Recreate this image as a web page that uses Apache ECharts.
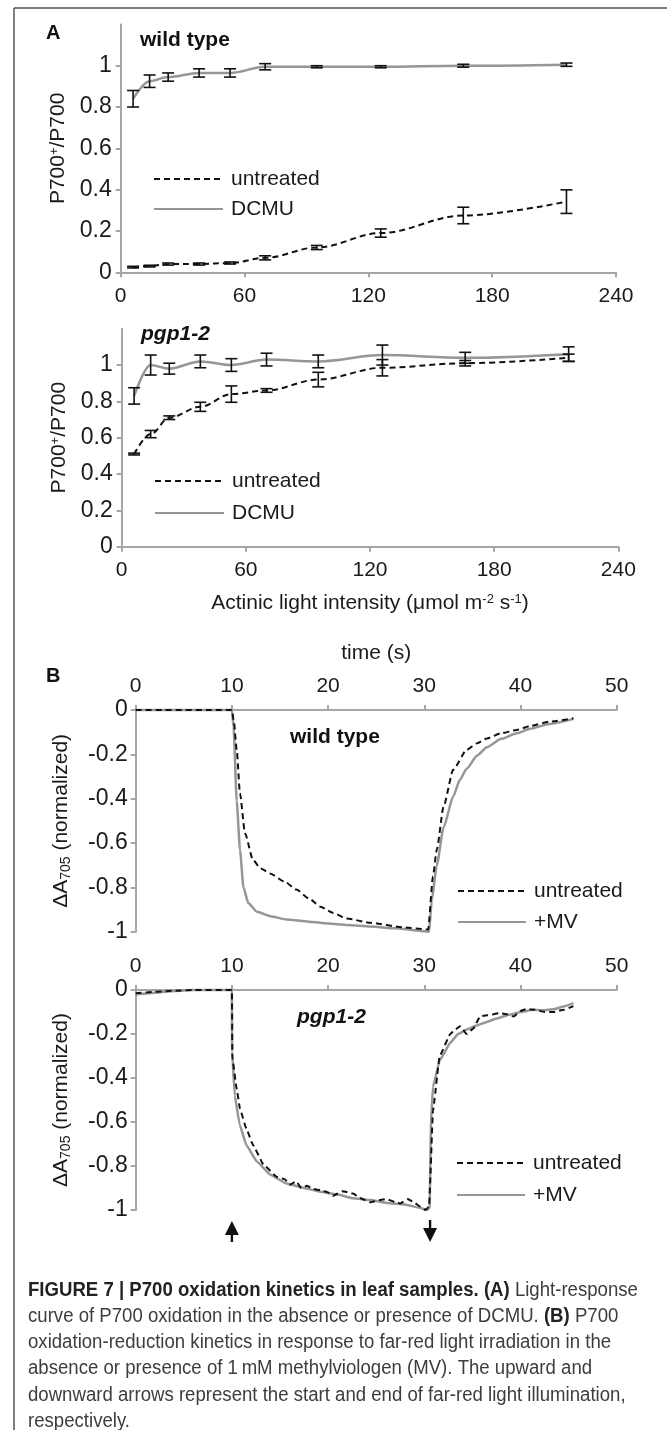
<!DOCTYPE html>
<html>
<head>
<meta charset="utf-8">
<script src="https://cdn.jsdelivr.net/npm/echarts@6/dist/echarts.min.js"></script>
<style>
  html, body { margin: 0; padding: 0; background: #fff; }
  #chart { width: 667px; height: 1430px; }
</style>
</head>
<body>
<div id="chart"></div>
<script>
const FONT = "'Liberation Sans', Arial, sans-serif";
const AXIS_GRAY = '#a6a6a6';
const LINE_GRAY = '#969696';
const TEXT = '#1a1a1a';

// ---- panel A: light response (x = actinic light, µmol m-2 s-1)
const lightIntensity = [6, 14, 23, 38, 53, 70, 95, 126, 166, 216];
const wtUntreated = [0.025, 0.03, 0.04, 0.04, 0.045, 0.07, 0.12, 0.19, 0.275, 0.342];
const wtUntreatedErr = [0.004, 0.004, 0.005, 0.005, 0.005, 0.01, 0.01, 0.02, 0.04, 0.057];
const wtDcmu = [0.84, 0.925, 0.945, 0.965, 0.965, 0.995, 0.995, 0.995, 1.0, 1.005];
const wtDcmuErr = [0.04, 0.03, 0.02, 0.02, 0.02, 0.015, 0.005, 0.005, 0.007, 0.008];
const pgpUntreated = [0.51, 0.62, 0.71, 0.77, 0.84, 0.86, 0.92, 0.985, 1.01, 1.04];
const pgpUntreatedErr = [0.005, 0.02, 0.01, 0.025, 0.045, 0.01, 0.04, 0.045, 0.015, 0.02];
const pgpDcmu = [0.83, 1.0, 0.98, 1.02, 1.0, 1.03, 1.02, 1.055, 1.04, 1.06];
const pgpDcmuErr = [0.045, 0.055, 0.03, 0.035, 0.035, 0.035, 0.035, 0.055, 0.03, 0.04];
const lightTicks = [0, 0.2, 0.4, 0.6, 0.8, 1];

// ---- panel B: P700 kinetics (time in s, normalized dA705)
const wtUntreatedTime = [0, 10, 10.2, 10.5, 10.84, 11.36, 12.2, 13, 13.96, 15.5, 16.7, 18, 19.2, 20.5, 21.9, 24.4, 27.8, 30.4, 30.9, 31.3, 32, 33, 34.4, 35.5, 36.5, 38, 39.6, 41, 43, 45.5];
const wtUntreatedSignal = [0, 0, -0.05, -0.18, -0.376, -0.556, -0.677, -0.715, -0.737, -0.775, -0.81, -0.85, -0.887, -0.915, -0.94, -0.96, -0.98, -0.99, -0.75, -0.63, -0.436, -0.27, -0.18, -0.15, -0.128, -0.105, -0.09, -0.072, -0.053, -0.037];
const wtMvTime = [0, 10, 10.17, 10.5, 10.84, 11.2, 11.7, 12.6, 14, 15.7, 18, 20, 22, 24.4, 27, 30.5, 30.77, 31.3, 32, 33, 33.7, 34.4, 35.5, 36.5, 38, 39.6, 41, 43, 45.5];
const wtMvSignal = [0, 0, -0.075, -0.41, -0.63, -0.80, -0.87, -0.91, -0.93, -0.945, -0.955, -0.963, -0.97, -0.977, -0.985, -1.0, -0.86, -0.70, -0.53, -0.39, -0.315, -0.265, -0.205, -0.168, -0.13, -0.105, -0.085, -0.063, -0.04];
const pgpUntreatedTime = [0, 2, 4, 6, 10, 10.05, 10.5, 10.84, 11.5, 12.2, 13.3, 14.7, 15.5, 16, 16.7, 17.2, 17.8, 18.5, 19.2, 20, 20.5, 21.5, 22.6, 23.3, 24.4, 25.3, 26.1, 27, 27.5, 28.3, 28.9, 29.6, 30.1, 30.5, 30.9, 31.6, 32.7, 33.2, 33.7, 34.4, 35.1, 35.8, 36.5, 37.9, 38.6, 39.3, 40, 40.6, 41.5, 42.5, 43.4, 44.5, 45.5];
const pgpUntreatedSignal = [-0.015, -0.008, -0.003, 0, 0, -0.31, -0.45, -0.54, -0.63, -0.705, -0.795, -0.85, -0.86, -0.885, -0.87, -0.9, -0.89, -0.905, -0.91, -0.92, -0.935, -0.915, -0.925, -0.945, -0.965, -0.955, -0.95, -0.965, -0.97, -0.95, -0.965, -0.985, -1.0, -0.985, -0.55, -0.30, -0.2, -0.18, -0.165, -0.2, -0.175, -0.12, -0.115, -0.105, -0.11, -0.12, -0.095, -0.087, -0.09, -0.1, -0.1, -0.09, -0.073];
const pgpMvTime = [0, 2, 4, 6, 10, 10.02, 10.3, 10.8, 11.5, 12.6, 14, 15.7, 17.5, 19.2, 21, 22.6, 24.4, 26.1, 28, 29.5, 30.3, 30.55, 30.7, 30.9, 31.6, 32.7, 33.5, 34.4, 35.5, 36.5, 37.5, 38.6, 40, 41.3, 42.4, 43.4, 44.5, 45.5];
const pgpMvSignal = [-0.02, -0.012, -0.004, 0, 0, -0.28, -0.48, -0.61, -0.705, -0.78, -0.84, -0.88, -0.9, -0.917, -0.93, -0.947, -0.955, -0.968, -0.975, -0.99, -1.0, -0.99, -0.6, -0.44, -0.32, -0.24, -0.2, -0.18, -0.16, -0.145, -0.13, -0.115, -0.1, -0.09, -0.092, -0.088, -0.075, -0.06];
const farRedOnOff = [10, 30.6];

const captionLines = [
  '{b|FIGURE 7 | P700 oxidation kinetics in leaf samples. (A)}{r| Light-response}',
  '{r|curve of P700 oxidation in the absence or presence of DCMU. }{b|(B)}{r| P700}',
  '{r|oxidation-reduction kinetics in response to far-red light irradiation in the}',
  '{r|absence or presence of 1\u2009mM methylviologen (MV). The upward and}',
  '{r|downward arrows represent the start and end of far-red light illumination,}',
  '{r|respectively.}'
];

const zip = (xs, ys) => xs.map((x, i) => [x, ys[i]]);
const errorRows = (xs, ys, es) => xs.map((x, i) => [x, ys[i] - es[i], ys[i] + es[i]]);

const axisBase = {
  type: 'value',
  axisLine: { show: true, lineStyle: { color: AXIS_GRAY, width: 2 } },
  axisTick: { show: true, length: 5, lineStyle: { color: AXIS_GRAY, width: 2 } },
  splitLine: { show: false },
  nameMoveOverlap: false
};
const labelBase = { color: TEXT, fontSize: 21, fontFamily: FONT };
const yLabelBase = { color: TEXT, fontSize: 23, fontFamily: FONT };

const supRich = {
  n: { fontSize: 21, fontFamily: FONT, color: TEXT, lineHeight: 22 },
  s: { fontSize: 13, fontFamily: FONT, color: TEXT, lineHeight: 12, verticalAlign: 'top' },
  d: { fontSize: 14, fontFamily: FONT, color: TEXT, lineHeight: 8, verticalAlign: 'bottom' }
};

function lightXAxis(grid, withName) {
  const ax = Object.assign({}, axisBase, {
    gridIndex: grid, min: 0, max: 240, interval: 60,
    axisLabel: Object.assign({ margin: 13 }, labelBase)
  });
  if (withName) {
    ax.name = '{n|Actinic light intensity (\u03bcmol m}{s|-2}{n| s}{s|-1}{n|)}';
    ax.nameLocation = 'middle';
    ax.nameGap = 46;
    ax.nameTextStyle = { rich: supRich };
  }
  return ax;
}
function lightYAxis(grid) {
  return Object.assign({}, axisBase, {
    gridIndex: grid, min: 0, max: 1.2, interval: 0.2,
    axisTick: Object.assign({}, axisBase.axisTick, { customValues: lightTicks }),
    axisLabel: Object.assign({ margin: 9, customValues: lightTicks }, yLabelBase),
    name: '{n|P700}{s|+}{n|/P700}', nameLocation: 'middle', nameGap: 51,
    nameTextStyle: { rich: supRich }
  });
}
function timeXAxis(grid, withName) {
  const ax = Object.assign({}, axisBase, {
    gridIndex: grid, position: 'top', min: 0, max: 50, interval: 10,
    axisLabel: Object.assign({ margin: 13 }, labelBase)
  });
  if (withName) {
    ax.name = 'time (s)';
    ax.nameLocation = 'middle';
    ax.nameGap = 46;
    ax.nameTextStyle = Object.assign({}, labelBase);
  }
  return ax;
}
function signalYAxis(grid) {
  return Object.assign({}, axisBase, {
    gridIndex: grid, min: -1, max: 0, interval: 0.2,
    axisLabel: Object.assign({ margin: 8 }, yLabelBase),
    name: '{n|\u0394A}{d|705}{n| (normalized)}', nameLocation: 'middle', nameGap: 63,
    nameTextStyle: { rich: supRich }
  });
}

function curve(grid, name, data, dashed, smooth) {
  const color = dashed ? '#111' : LINE_GRAY;
  return {
    type: 'line', name: name, xAxisIndex: grid, yAxisIndex: grid,
    data: data, symbol: 'none', smooth: smooth, smoothMonotone: 'x', clip: false,
    z: dashed ? 3 : 2,
    itemStyle: { color: color },
    lineStyle: dashed ? { color: color, width: 2, type: [6, 4] } : { color: color, width: 2.5 }
  };
}
function errorBars(grid, rows) {
  return {
    type: 'custom', xAxisIndex: grid, yAxisIndex: grid, data: rows, z: 5, clip: false,
    renderItem: function (params, api) {
      const hi = api.coord([api.value(0), api.value(2)]);
      const lo = api.coord([api.value(0), api.value(1)]);
      const w = 6;
      const st = { stroke: '#111', lineWidth: 1.6 };
      return {
        type: 'group', children: [
          { type: 'line', shape: { x1: hi[0], y1: hi[1], x2: lo[0], y2: lo[1] }, style: st },
          { type: 'line', shape: { x1: hi[0] - w, y1: hi[1], x2: hi[0] + w, y2: hi[1] }, style: st },
          { type: 'line', shape: { x1: lo[0] - w, y1: lo[1], x2: lo[0] + w, y2: lo[1] }, style: st }
        ]
      };
    }
  };
}
function legendAt(names, left, top, gap, width) {
  return {
    data: names, left: left, top: top, orient: 'vertical', padding: 0,
    itemWidth: width, itemHeight: 14, itemGap: gap,
    itemStyle: { opacity: 0 },
    textStyle: { color: TEXT, fontSize: 21, fontFamily: FONT, lineHeight: 24, padding: [0, 0, 0, 3] }
  };
}

const chart = echarts.init(document.getElementById('chart'));

chart.setOption({
  animation: false,
  backgroundColor: '#fff',
  grid: [
    { left: 120.7, top: 24.4, width: 495.3, height: 247.9, outerBoundsMode: 'none' },
    { left: 121.7, top: 328.7, width: 496.6, height: 218, outerBoundsMode: 'none' },
    { left: 135.7, top: 710, width: 481, height: 221.7, outerBoundsMode: 'none' },
    { left: 135.7, top: 990, width: 481, height: 220, outerBoundsMode: 'none' }
  ],
  xAxis: [lightXAxis(0, false), lightXAxis(1, true), timeXAxis(2, true), timeXAxis(3, false)],
  yAxis: [lightYAxis(0), lightYAxis(1), signalYAxis(2), signalYAxis(3)],
  legend: [
    legendAt(['untreated', 'DCMU'], 153, 167, 6, 69),
    legendAt(['untreated', 'DCMU'], 154, 469, 8, 69),
    legendAt(['untreated', '+MV'], 457, 879, 7, 68),
    legendAt(['untreated', '+MV'], 456, 1151, 8, 68)
  ],
  series: [
    curve(0, 'DCMU', zip(lightIntensity, wtDcmu), false, 0.35),
    curve(0, 'untreated', zip(lightIntensity, wtUntreated), true, 0.35),
    errorBars(0, errorRows(lightIntensity, wtDcmu, wtDcmuErr)),
    errorBars(0, errorRows(lightIntensity, wtUntreated, wtUntreatedErr)),
    curve(1, 'DCMU', zip(lightIntensity, pgpDcmu), false, 0.35),
    curve(1, 'untreated', zip(lightIntensity, pgpUntreated), true, 0.35),
    errorBars(1, errorRows(lightIntensity, pgpDcmu, pgpDcmuErr)),
    errorBars(1, errorRows(lightIntensity, pgpUntreated, pgpUntreatedErr)),
    curve(2, '+MV', zip(wtMvTime, wtMvSignal), false, 0.2),
    curve(2, 'untreated', zip(wtUntreatedTime, wtUntreatedSignal), true, 0.2),
    curve(3, '+MV', zip(pgpMvTime, pgpMvSignal), false, 0.1),
    curve(3, 'untreated', zip(pgpUntreatedTime, pgpUntreatedSignal), true, 0.1)
  ]
});

// annotations: frame, panel letters, genotype titles, arrows, caption
const graphic = [
  { type: 'line', shape: { x1: 14, y1: 8, x2: 667, y2: 8 }, style: { stroke: '#555', lineWidth: 1.5 } },
  { type: 'line', shape: { x1: 14, y1: 8, x2: 14, y2: 1430 }, style: { stroke: '#555', lineWidth: 1.5 } }
];
function label(text, x, y, font) {
  graphic.push({ type: 'text', x: x, y: y, style: { text: text, font: font, fill: '#111', textVerticalAlign: 'middle' } });
}
label('A', 46, 33, "bold 20px 'Liberation Sans', Arial");
label('B', 46, 676, "bold 20px 'Liberation Sans', Arial");
label('wild type', 140, 40, "bold 21px 'Liberation Sans', Arial");
label('pgp1-2', 141, 334, "italic bold 21px 'Liberation Sans', Arial");
label('wild type', 290, 737, "bold 21px 'Liberation Sans', Arial");
label('pgp1-2', 297, 1017, "italic bold 21px 'Liberation Sans', Arial");

farRedOnOff.forEach(function (t, i) {
  const p = chart.convertToPixel({ gridIndex: 3 }, [t, -1]);
  const x = p[0], y0 = p[1];
  const pts = i === 0
    ? [[x, y0 + 11], [x + 7, y0 + 25], [x - 7, y0 + 25]]
    : [[x, y0 + 32], [x + 7, y0 + 18], [x - 7, y0 + 18]];
  const stem = i === 0
    ? { x1: x, y1: y0 + 24, x2: x, y2: y0 + 32 }
    : { x1: x, y1: y0 + 10, x2: x, y2: y0 + 19 };
  graphic.push({ type: 'polygon', shape: { points: pts }, style: { fill: '#111' } });
  graphic.push({ type: 'line', shape: stem, style: { stroke: '#111', lineWidth: 2.4 } });
});

// caption: condensed look by squeezing Liberation Sans horizontally
const captionRich = {
  b: { fontFamily: FONT, fontSize: 20, fontWeight: 'bold', fill: '#222', color: '#222' },
  r: { fontFamily: FONT, fontSize: 20, fill: '#3d3d3d', color: '#3d3d3d' }
};
captionLines.forEach(function (line, i) {
  graphic.push({
    type: 'text', x: 28, y: 1290 + i * 26.3, scaleX: 0.93,
    style: { text: line, rich: captionRich, textVerticalAlign: 'middle' }
  });
});

chart.setOption({ graphic: graphic });
</script>
</body>
</html>
